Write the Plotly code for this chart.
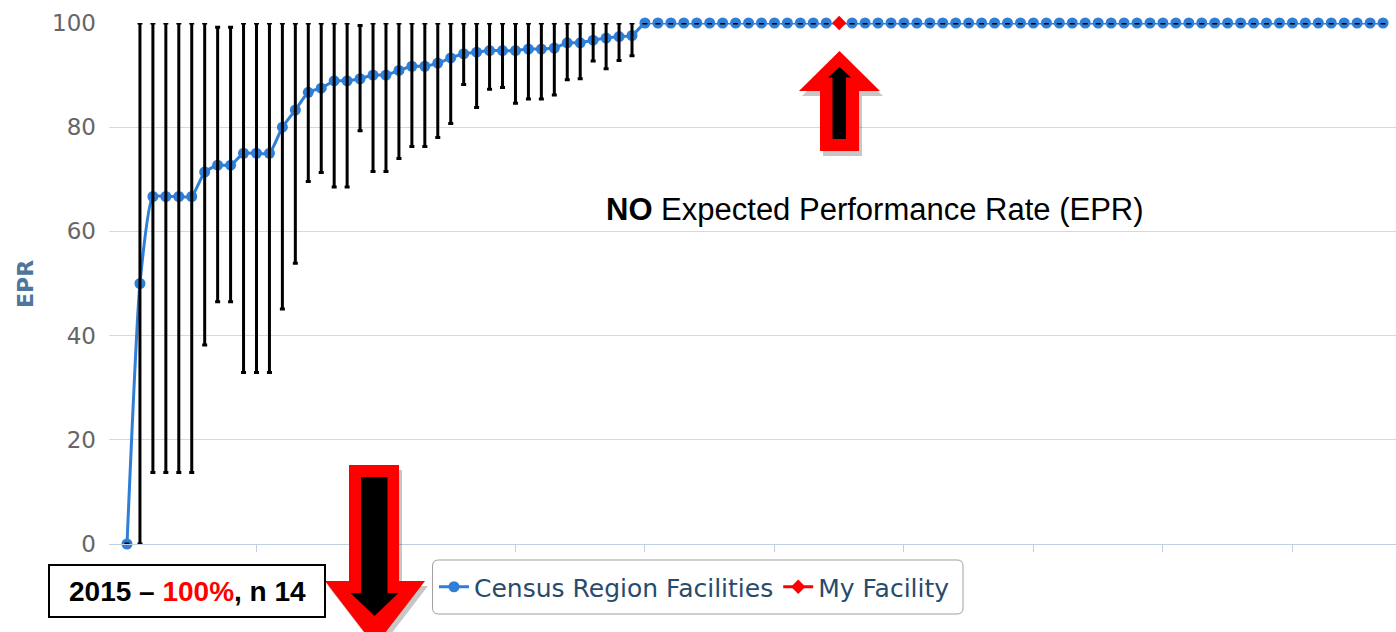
import plotly.graph_objects as go

# ---------------- data ----------------
facility_rank = list(range(98))
epr = [0, 50, 66.7, 66.7, 66.7, 66.7, 71.4, 72.7, 72.7, 75,
       75, 75, 80, 83.3, 86.7, 87.5, 88.9, 88.9, 89.3, 90,
       90, 90.9, 91.7, 91.7, 92.3, 93.3, 94.1, 94.4, 94.7, 94.7,
       94.7, 95, 95, 95.2, 96.2, 96.2, 96.7, 97.1, 97.4, 97.6,
       100, 100, 100, 100, 100, 100, 100, 100, 100, 100,
       100, 100, 100, 100, 100, 100, 100, 100, 100, 100,
       100, 100, 100, 100, 100, 100, 100, 100, 100, 100,
       100, 100, 100, 100, 100, 100, 100, 100, 100, 100,
       100, 100, 100, 100, 100, 100, 100, 100, 100, 100,
       100, 100, 100, 100, 100, 100, 100, 100]
ci_low = [0, 0, 13.7, 13.7, 13.7, 13.7, 38.2, 46.5, 46.5, 32.9,
          32.9, 32.9, 45.1, 53.9, 69.6, 71.3, 68.5, 68.5, 79.3, 71.5,
          71.5, 74.0, 76.3, 76.3, 78.0, 80.7, 88.2, 83.8, 87.3, 87.6,
          84.6, 85.4, 85.4, 86.2, 89.1, 89.3, 92.7, 91.2, 92.8, 93.7,
          100, 100, 100, 100, 100, 100, 100, 100, 100, 100,
          100, 100, 100, 100, 100, 100, 100, 100, 100, 100,
          100, 100, 100, 100, 100, 100, 100, 100, 100, 100,
          100, 100, 100, 100, 100, 100, 100, 100, 100, 100,
          100, 100, 100, 100, 100, 100, 100, 100, 100, 100,
          100, 100, 100, 100, 100, 100, 100, 100]
ci_high = [0, 100, 100, 100, 100, 100, 100, 99.2, 99.2, 100,
           100, 100, 100, 100, 100, 100, 100, 100, 99.5, 100,
           100, 100, 100, 100, 100, 100, 100, 100, 100, 100,
           100, 100, 100, 100, 100, 100, 100, 100, 100, 100,
           100, 100, 100, 100, 100, 100, 100, 100, 100, 100,
           100, 100, 100, 100, 100, 100, 100, 100, 100, 100,
           100, 100, 100, 100, 100, 100, 100, 100, 100, 100,
           100, 100, 100, 100, 100, 100, 100, 100, 100, 100,
           100, 100, 100, 100, 100, 100, 100, 100, 100, 100,
           100, 100, 100, 100, 100, 100, 100, 100]
my_facility_x = [55]
my_facility_y = [100]
x_ticks = [10, 20, 30, 40, 50, 60, 70, 80, 90]
y_ticks = [0, 20, 40, 60, 80, 100]

census_y = [None if i in my_facility_x else v for i, v in zip(facility_rank, epr)]
err_plus = [h - v for h, v in zip(ci_high, epr)]
err_minus = [v - l for v, l in zip(epr, ci_low)]

# ---------------- layout geometry (screen pixels) ----------------
W, H = 1396, 632
L, R, T, B = 109, 1396, 23, 544   # plot area in screen pixels


def px(x):
    return (x - L) / (R - L)


def py(y):
    return (B - y) / (B - T)


def path(pts):
    return "M " + " L ".join(f"{px(x):.5f},{py(y):.5f}" for x, y in pts) + " Z"


BLUE = "#2f7ed8"

fig = go.Figure()
fig.add_trace(go.Scatter(
    x=facility_rank, y=census_y, mode="lines+markers", name="Census Region Facilities",
    line=dict(color=BLUE, width=3, shape="spline", smoothing=0.5),
    marker=dict(color=BLUE, size=11, symbol="circle"),
    connectgaps=True, cliponaxis=False,
))
fig.add_trace(go.Scatter(
    x=facility_rank, y=epr, mode="markers", showlegend=False,
    marker=dict(size=1, color="rgba(0,0,0,0)"),
    error_y=dict(type="data", symmetric=False, array=err_plus, arrayminus=err_minus,
                 color="black", thickness=3, width=2.5),
    cliponaxis=False, hoverinfo="skip",
))
fig.add_trace(go.Scatter(
    x=my_facility_x, y=my_facility_y, mode="lines+markers", name="My Facility",
    line=dict(color="#ff0000", width=3),
    marker=dict(color="#ff0000", size=11, symbol="diamond"),
    cliponaxis=False,
))

shapes = []
# legend rounded border
x0, y0, x1, y1, r = 432.5, 560, 963, 614, 6
rr = (f"M {px(x0 + r):.5f},{py(y0):.5f} L {px(x1 - r):.5f},{py(y0):.5f} "
      f"Q {px(x1):.5f},{py(y0):.5f} {px(x1):.5f},{py(y0 + r):.5f} "
      f"L {px(x1):.5f},{py(y1 - r):.5f} Q {px(x1):.5f},{py(y1):.5f} {px(x1 - r):.5f},{py(y1):.5f} "
      f"L {px(x0 + r):.5f},{py(y1):.5f} Q {px(x0):.5f},{py(y1):.5f} {px(x0):.5f},{py(y1 - r):.5f} "
      f"L {px(x0):.5f},{py(y0 + r):.5f} Q {px(x0):.5f},{py(y0):.5f} {px(x0 + r):.5f},{py(y0):.5f} Z")
shapes.append(dict(type="path", xref="paper", yref="paper", path=rr,
                   line=dict(color="#a0a0a0", width=1), fillcolor="rgba(0,0,0,0)", layer="below"))

# up arrow
up_outer = [(839.5, 51), (880, 91), (859, 91), (859, 151), (820, 151), (820, 91), (799, 91)]
up_inner = [(839.5, 67), (851, 77.5), (846, 77.5), (846, 139), (832.5, 139), (832.5, 77.5), (828, 77.5)]
# down arrow
dn_outer = [(349, 465), (399, 465), (399, 581), (425, 581), (375, 646), (325, 581), (349, 581)]
dn_inner = [(361, 477), (387.5, 477), (387.5, 593), (398.5, 593), (374.5, 616), (350.5, 593), (361, 593)]

for pts in (up_outer, dn_outer):
    shadow = [(x + 3, y + 5) for x, y in pts]
    shapes.append(dict(type="path", xref="paper", yref="paper", path=path(shadow),
                       fillcolor="rgba(0,0,0,0.22)", line=dict(width=0), layer="above"))
for outer, inner in ((up_outer, up_inner), (dn_outer, dn_inner)):
    shapes.append(dict(type="path", xref="paper", yref="paper", path=path(outer),
                       fillcolor="#ff0000", line=dict(width=0), layer="above"))
    shapes.append(dict(type="path", xref="paper", yref="paper", path=path(inner),
                       fillcolor="#000000", line=dict(width=0), layer="above"))

# info box
shapes.append(dict(type="rect", xref="paper", yref="paper",
                   x0=px(49), x1=px(325), y0=py(617), y1=py(565),
                   fillcolor="white", line=dict(color="black", width=2), layer="above"))

annotations = [
    dict(xref="paper", yref="paper", x=px(25), y=py(284), text="<b>EPR</b>", textangle=-90,
         showarrow=False, font=dict(family="DejaVu Sans", size=22, color="#4d759e"),
         xanchor="center", yanchor="middle"),
    dict(xref="paper", yref="paper", x=px(875), y=py(209),
         text="<b>NO</b> Expected Performance Rate (EPR)", showarrow=False,
         font=dict(family="Liberation Sans, Arial", size=31, color="black"),
         xanchor="center", yanchor="middle"),
    dict(xref="paper", yref="paper", x=px(187), y=py(591),
         text="<b>2015 – <span style='color:#ff0000'>100%</span>, n 14</b>", showarrow=False,
         font=dict(family="Liberation Sans, Arial", size=28, color="black"),
         xanchor="center", yanchor="middle"),
]

fig.update_layout(
    width=W, height=H,
    margin=dict(l=L, r=W - R, t=T, b=H - B, pad=0),
    paper_bgcolor="white", plot_bgcolor="white",
    showlegend=True,
    legend=dict(orientation="h", x=px(434), y=py(587), xanchor="left", yanchor="middle",
                font=dict(family="DejaVu Sans", size=25, color="#274b6d"),
                bgcolor="rgba(0,0,0,0)", borderwidth=0, itemsizing="trace"),
    xaxis=dict(range=[-1.39, 98.0], showgrid=False, zeroline=False, showline=True,
               linecolor="#C0D0E0", linewidth=1, ticks="outside", ticklen=7,
               tickcolor="#C0D0E0", tickmode="array", tickvals=x_ticks, showticklabels=False,
               fixedrange=True),
    yaxis=dict(range=[0, 100], showgrid=True, gridcolor="#D8D8D8", gridwidth=1,
               zeroline=False, showline=False, tickmode="array", tickvals=y_ticks,
               tickfont=dict(family="DejaVu Sans", size=23, color="#666666"),
               ticklabelstandoff=12, fixedrange=True),
    shapes=shapes,
    annotations=annotations,
)

fig.write_html(
    "out.html",
    config={"displayModeBar": False},
    post_script="document.body.style.margin='0';document.body.style.overflow='hidden';",
)
